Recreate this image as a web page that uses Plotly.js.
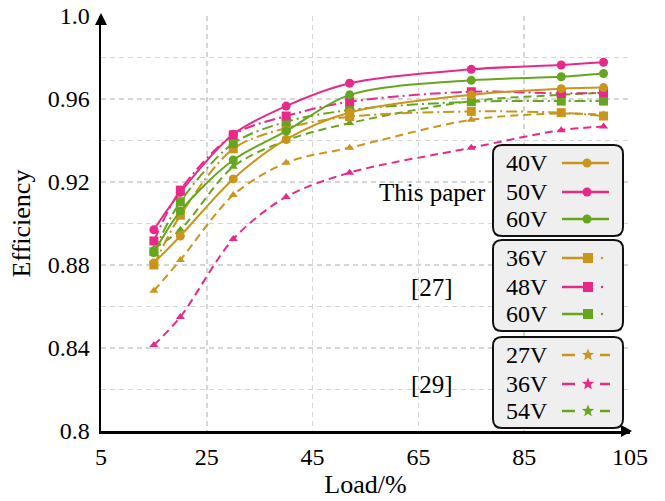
<!DOCTYPE html>
<html>
<head>
<meta charset="utf-8">
<script src="https://cdn.plot.ly/plotly-3.0.1.min.js"></script>
<style>
  html, body { margin: 0; padding: 0; background: #ffffff; }
  #chart { width: 665px; height: 501px; }
</style>
</head>
<body>
<div id="chart"></div>
<script>
// Load points (%) shared by every curve
const load = [15, 20, 30, 40, 52, 75, 92, 100];

// This paper
const thisPaper40V = [0.881, 0.894, 0.9215, 0.9405, 0.9535, 0.962, 0.965, 0.9655];
const thisPaper50V = [0.897, 0.915, 0.943, 0.9566, 0.9676, 0.9743, 0.9764, 0.9777];
const thisPaper60V = [0.886, 0.906, 0.9306, 0.9445, 0.962, 0.969, 0.9707, 0.9723];

// Reference [27]
const ref27_36V = [0.880, 0.904, 0.936, 0.946, 0.9515, 0.954, 0.9534, 0.9518];
const ref27_48V = [0.8916, 0.9161, 0.9427, 0.9518, 0.9587, 0.9635, 0.9627, 0.963];
const ref27_60V = [0.8864, 0.9105, 0.9386, 0.949, 0.9547, 0.9587, 0.959, 0.959];

// Reference [29]
const ref29_27V = [0.8676, 0.8824, 0.9137, 0.9293, 0.9365, 0.950, 0.953, 0.9525];
const ref29_36V = [0.8414, 0.855, 0.8925, 0.9128, 0.9245, 0.9365, 0.945, 0.9467];
const ref29_54V = [0.888, 0.897, 0.9274, 0.940, 0.9484, 0.959, 0.962, 0.963];

// Axis ticks
const xTicks = [5, 25, 45, 65, 85, 105];
const yTicks = [0.8, 0.84, 0.88, 0.92, 0.96, 1.0];
const yTickText = ['0.8', '0.84', '0.88', '0.92', '0.96', '1.0'];

// Legend groups
const groupNames = ['This paper', '[27]', '[29]'];
const groupLabels = [['40V', '50V', '60V'], ['36V', '48V', '60V'], ['27V', '36V', '54V']];

const GOLD = '#c9951c';
const PINK = '#e7298a';
const GREEN = '#66a61e';
const colors = [GOLD, PINK, GREEN];
const FONT = '"Liberation Serif", "Times New Roman", serif';

const dashDot = '11px,4px,2px,4px';
const dashed = '8px,5px';

function curve(y, color, symbol, dash, size) {
  return {
    x: load, y: y, type: 'scatter', mode: 'lines+markers',
    line: { color: color, width: 2, dash: dash, shape: 'spline', smoothing: 0.9 },
    marker: { color: color, symbol: symbol, size: size },
    showlegend: false, hoverinfo: 'x+y'
  };
}

const traces = [
  curve(ref29_27V, GOLD, 'triangle-up', dashed, 8),
  curve(ref29_36V, PINK, 'triangle-up', dashed, 8),
  curve(ref29_54V, GREEN, 'triangle-up', dashed, 8),
  curve(ref27_36V, GOLD, 'square', dashDot, 9),
  curve(ref27_60V, GREEN, 'square', dashDot, 9),
  curve(ref27_48V, PINK, 'square', dashDot, 9),
  curve(thisPaper40V, GOLD, 'circle', 'solid', 9),
  curve(thisPaper60V, GREEN, 'circle', 'solid', 9),
  curve(thisPaper50V, PINK, 'circle', 'solid', 9)
];

// Plot area in pixels
const L = 101, R = 630, T = 16, B = 431;
const W = R - L, H = B - T;
const px = x => (x - L) / W;
const py = y => (B - y) / H;

function roundedBox(x0, y0, x1, y1, r) {
  const p = (x, y) => px(x) + ',' + py(y);
  return 'M' + p(x0 + r, y0) + ' L' + p(x1 - r, y0) + ' Q' + p(x1, y0) + ' ' + p(x1, y0 + r) +
    ' L' + p(x1, y1 - r) + ' Q' + p(x1, y1) + ' ' + p(x1 - r, y1) +
    ' L' + p(x0 + r, y1) + ' Q' + p(x0, y1) + ' ' + p(x0, y1 - r) +
    ' L' + p(x0, y0 + r) + ' Q' + p(x0, y0) + ' ' + p(x0 + r, y0) + ' Z';
}

function starPath(cx, cy, ro, ri) {
  let d = '';
  for (let i = 0; i < 10; i++) {
    const a = -Math.PI / 2 + i * Math.PI / 5;
    const r = i % 2 === 0 ? ro : ri;
    d += (i === 0 ? 'M' : ' L') + px(cx + r * Math.cos(a)) + ',' + py(cy + r * Math.sin(a));
  }
  return d + ' Z';
}

const shapes = [];
const annotations = [];

// Axis arrowheads
shapes.push({
  type: 'path', xref: 'paper', yref: 'paper', layer: 'above',
  path: 'M' + px(L) + ',' + py(T - 3) + ' L' + px(L - 6) + ',' + py(T + 9) + ' L' + px(L + 6) + ',' + py(T + 9) + ' Z',
  fillcolor: '#000', line: { width: 0 }
});
shapes.push({
  type: 'path', xref: 'paper', yref: 'paper', layer: 'above',
  path: 'M' + px(R + 2) + ',' + py(B) + ' L' + px(R - 9) + ',' + py(B - 6) + ' L' + px(R - 9) + ',' + py(B + 6) + ' Z',
  fillcolor: '#000', line: { width: 0 }
});

// Legend boxes
const boxTops = [145, 240, 337];
const boxH = 91;
const boxL = 493, boxR = 623;
const rowOffsets = [18, 47, 74];
const lineX0 = 562, lineX1 = 609, markX = 587;
const LEG_SIZE = 24;

boxTops.forEach((top, g) => {
  shapes.push({
    type: 'path', xref: 'paper', yref: 'paper', layer: 'above',
    path: roundedBox(boxL, top, boxR, top + boxH, 9),
    fillcolor: '#efefef', line: { color: '#111', width: 2 }
  });
  annotations.push({
    xref: 'paper', yref: 'paper', x: px(432), y: py(top + 47),
    text: groupNames[g], showarrow: false, xanchor: 'center', yanchor: 'middle',
    font: { family: FONT, size: 25, color: '#000' }
  });
  groupLabels[g].forEach((lab, i) => {
    const cy = top + rowOffsets[i];
    const c = colors[i];
    annotations.push({
      xref: 'paper', yref: 'paper', x: px(504), y: py(cy),
      text: lab, showarrow: false, xanchor: 'left', yanchor: 'middle',
      font: { family: FONT, size: LEG_SIZE, color: '#000' }
    });
    if (g === 0) {
      shapes.push({ type: 'line', xref: 'paper', yref: 'paper', layer: 'above',
        x0: px(lineX0), x1: px(lineX1), y0: py(cy), y1: py(cy), line: { color: c, width: 2.5 } });
      shapes.push({ type: 'circle', xref: 'paper', yref: 'paper', layer: 'above',
        xsizemode: 'pixel', ysizemode: 'pixel', xanchor: px(markX), yanchor: py(cy),
        x0: -4.5, x1: 4.5, y0: -4.5, y1: 4.5, fillcolor: c, line: { color: c, width: 0 } });
    } else if (g === 1) {
      shapes.push({ type: 'line', xref: 'paper', yref: 'paper', layer: 'above',
        x0: px(lineX0), x1: px(589), y0: py(cy), y1: py(cy), line: { color: c, width: 2.5 } });
      shapes.push({ type: 'rect', xref: 'paper', yref: 'paper', layer: 'above',
        xsizemode: 'pixel', ysizemode: 'pixel', xanchor: px(588), yanchor: py(cy),
        x0: -5, x1: 5, y0: -5, y1: 5, fillcolor: c, line: { color: c, width: 0 } });
      shapes.push({ type: 'circle', xref: 'paper', yref: 'paper', layer: 'above',
        xsizemode: 'pixel', ysizemode: 'pixel', xanchor: px(602), yanchor: py(cy),
        x0: -1.2, x1: 1.2, y0: -1.2, y1: 1.2, fillcolor: c, line: { color: c, width: 0 } });
    } else {
      shapes.push({ type: 'line', xref: 'paper', yref: 'paper', layer: 'above',
        x0: px(562), x1: px(575), y0: py(cy), y1: py(cy), line: { color: c, width: 2.5 } });
      shapes.push({ type: 'line', xref: 'paper', yref: 'paper', layer: 'above',
        x0: px(600), x1: px(610), y0: py(cy), y1: py(cy), line: { color: c, width: 2.5 } });
      shapes.push({ type: 'path', xref: 'paper', yref: 'paper', layer: 'above',
        path: starPath(588, cy, 6.5, 2.8), fillcolor: c, line: { color: c, width: 0 } });
    }
  });
});

const gridColor = '#d6d6d6';

const layout = {
  width: 665, height: 501,
  margin: { l: L, r: 665 - R, t: T, b: 501 - B, pad: 0 },
  paper_bgcolor: '#ffffff', plot_bgcolor: '#ffffff',
  font: { family: FONT, size: 24, color: '#000' },
  showlegend: false,
  xaxis: {
    range: [5, 105], tickvals: xTicks, ticks: '', ticklabelstandoff: 3,
    showgrid: true, gridcolor: gridColor, griddash: '5px,4px', gridwidth: 1.5,
    zeroline: false, showline: true, linecolor: '#000', linewidth: 2.5,
    tickfont: { family: FONT, size: 24, color: '#000' },
    title: { text: 'Load/%', font: { family: FONT, size: 26, color: '#000' }, standoff: 5 }
  },
  yaxis: {
    range: [0.8, 1.0], tickvals: yTicks, ticktext: yTickText, ticks: '', ticklabelstandoff: 4,
    showgrid: true, gridcolor: gridColor, griddash: '5px,4px', gridwidth: 1.5,
    minor: { dtick: 0.02, tick0: 0.8, showgrid: true, gridcolor: gridColor, griddash: '5px,4px', gridwidth: 1.5 },
    zeroline: false, showline: true, linecolor: '#000', linewidth: 2.5,
    tickfont: { family: FONT, size: 24, color: '#000' },
    title: { text: 'Efficiency', font: { family: FONT, size: 26, color: '#000' }, standoff: 10 }
  },
  shapes: shapes,
  annotations: annotations
};

Plotly.newPlot('chart', traces, layout, { displayModeBar: false, staticPlot: true });
</script>
</body>
</html>
